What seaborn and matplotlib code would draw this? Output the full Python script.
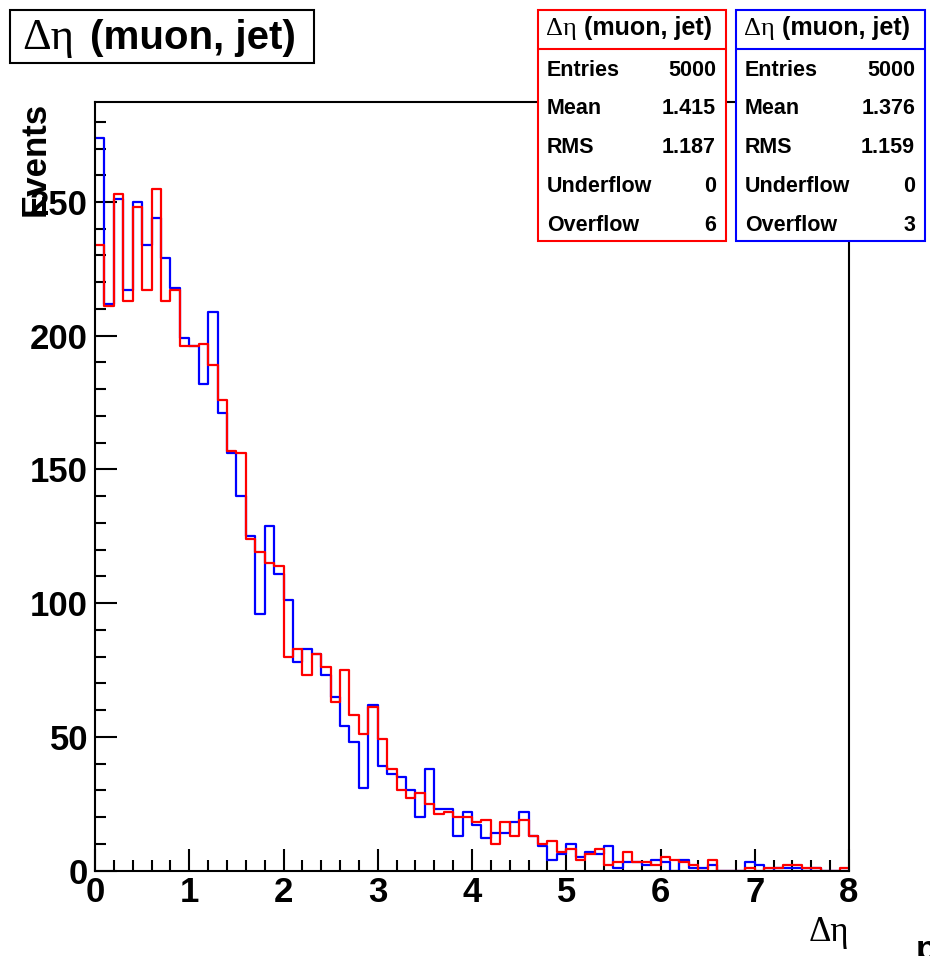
import numpy as np
import pandas as pd
import matplotlib.pyplot as plt
import seaborn as sns
from matplotlib.patches import Rectangle
from matplotlib.lines import Line2D
from matplotlib.ticker import MultipleLocator

# bins de 0.1 entre 0 e 8
bin_edges = np.round(np.linspace(0, 8, 81), 2)

# contagens (azul e vermelho)
counts_blue = [274, 212, 251, 217, 250, 234, 244, 229, 218, 199,
               196, 182, 209, 171, 156, 140, 125, 96, 129, 111,
               101, 78, 83, 81, 73, 65, 54, 48, 31, 62,
               39, 36, 35, 30, 20, 38, 23, 23, 13, 22,
               17, 12, 14, 14, 18, 22, 13, 9, 4, 6,
               10, 5, 7, 6, 9, 1, 3, 3, 2, 4,
               3, 0, 4, 1, 1, 2, 0, 0, 0, 3,
               2, 0, 1, 1, 1, 0, 1, 0, 0, 0]
counts_red = [234, 211, 253, 213, 248, 217, 255, 213, 217, 196,
              196, 197, 189, 176, 157, 156, 124, 119, 115, 114,
              80, 83, 73, 81, 76, 63, 75, 58, 51, 61,
              49, 38, 30, 27, 29, 25, 21, 22, 20, 20,
              18, 19, 10, 18, 13, 19, 13, 10, 11, 7,
              8, 4, 6, 8, 2, 3, 7, 3, 3, 2,
              5, 4, 3, 2, 0, 4, 0, 0, 0, 1,
              0, 1, 1, 2, 2, 1, 1, 0, 0, 1]

stat_names = ['Entries', 'Mean', 'RMS', 'Underflow', 'Overflow']
stats_red = ['5000', '1.415', '1.187', '0', '6']
stats_blue = ['5000', '1.376', '1.159', '0', '3']

centers = bin_edges[:-1] + 0.05
df = pd.DataFrame({'deta': centers, 'blue': counts_blue, 'red': counts_red})

sns.set_style('white')
plt.rcParams['font.family'] = ['Liberation Sans', 'DejaVu Sans']
plt.rcParams['font.weight'] = 'bold'
plt.rcParams['text.color'] = 'black'
plt.rcParams['xtick.color'] = 'black'
plt.rcParams['ytick.color'] = 'black'

W, H = 930, 956
fig = plt.figure(figsize=(W / 100, H / 100), dpi=100)


def fx(x):
    return x / W


def fy(y):
    return 1 - y / H


ax = fig.add_axes([fx(95), fy(870.5), (849 - 95) / W, (870.5 - 102) / H])

sns.histplot(data=df, x='deta', weights='blue', binwidth=0.1, binrange=(0, 8), element='step',
             fill=False, color='#0000ff', lw=1.6, ax=ax)
sns.histplot(data=df, x='deta', weights='red', binwidth=0.1, binrange=(0, 8), element='step',
             fill=False, color='#ff0000', lw=1.6, ax=ax)

ax.set_xlim(0, 8)
ax.set_ylim(0, 287.4)
ax.set_xlabel('')
ax.set_ylabel('')
ax.xaxis.set_major_locator(MultipleLocator(1))
ax.xaxis.set_minor_locator(MultipleLocator(0.2))
ax.yaxis.set_major_locator(MultipleLocator(50))
ax.yaxis.set_minor_locator(MultipleLocator(10))
ax.tick_params(which='both', direction='in', top=False, right=False,
               bottom=True, left=True, width=1.5, color='black', labelcolor='black')
ax.tick_params(which='major', length=16, labelsize=25)
ax.tick_params(which='minor', length=8)
ax.tick_params(axis='x', pad=4)
ax.tick_params(axis='y', pad=5)
for s in ax.spines.values():
    s.set_visible(True)
    s.set_color('black')
    s.set_linewidth(1.5)

# titulo
fig.add_artist(Rectangle((fx(10), fy(63)), 304 / W, 53 / H, transform=fig.transFigure,
                         fc='white', ec='black', lw=1.5))
fig.text(fx(22), fy(49), 'Δη', family='Liberation Serif', weight='normal',
         fontsize=32, va='baseline')
fig.text(fx(90), fy(49), '(muon, jet)', fontsize=29, va='baseline')

# caixas de estatistica
for x0, x1, cor, vals in [(538, 726, '#ff0000', stats_red), (736, 925, '#0000ff', stats_blue)]:
    fig.add_artist(Rectangle((fx(x0), fy(241)), (x1 - x0) / W, 231 / H,
                             transform=fig.transFigure, fc='white', ec=cor, lw=1.5, zorder=5))
    fig.add_artist(Line2D([fx(x0), fx(x1)], [fy(49), fy(49)], color=cor, lw=1.5, zorder=6))
    fig.text(fx(x0 + 8), fy(35), 'Δη', family='Liberation Serif', weight='normal',
             fontsize=19, va='baseline', zorder=7)
    fig.text(fx(x0 + 46), fy(35), '(muon, jet)', fontsize=18, va='baseline', zorder=7)
    for i, (nome, v) in enumerate(zip(stat_names, vals)):
        yb = 75.5 + i * 38.8
        fig.text(fx(x0 + 9), fy(yb), nome, fontsize=15.5, va='baseline', zorder=7)
        fig.text(fx(x1 - 10), fy(yb), v, fontsize=15.5, va='baseline', ha='right', zorder=7)

fig.text(fx(35), fy(102), 'Events', rotation=90, ha='center', va='top', fontsize=25)
fig.text(fx(849), fy(941), 'Δη', family='Liberation Serif', weight='normal',
         fontsize=25, ha='right', va='baseline')
fig.text(fx(916), fy(960), 'p', fontsize=25, va='baseline')

fig.savefig('out.png', dpi=100)
